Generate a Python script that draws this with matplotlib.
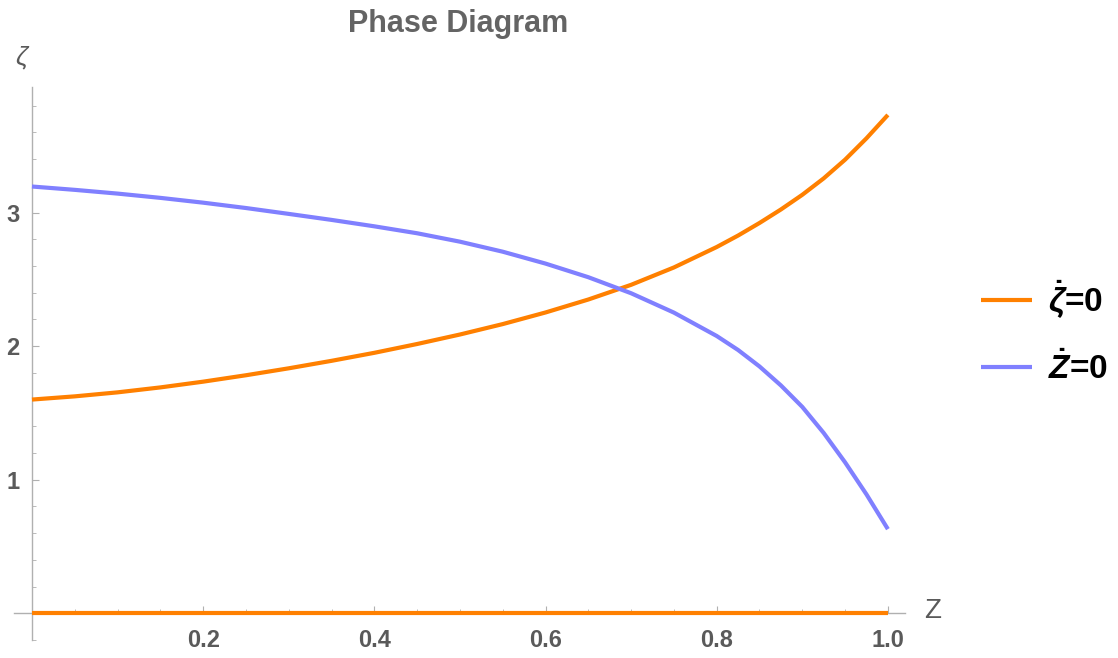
import matplotlib
matplotlib.use('Agg')
import matplotlib.pyplot as plt
from matplotlib.ticker import FixedLocator, MultipleLocator

# values
z_vals = [0.0, 0.05, 0.10, 0.15, 0.20, 0.25, 0.30, 0.35, 0.40, 0.45, 0.50,
          0.55, 0.60, 0.65, 0.70, 0.75, 0.80, 0.825, 0.85, 0.875, 0.90,
          0.925, 0.95, 0.975, 1.0]
zeta_dot_zero = [1.600, 1.624, 1.654, 1.691, 1.734, 1.782, 1.834, 1.890, 1.950,
                 2.016, 2.087, 2.165, 2.252, 2.349, 2.459, 2.589, 2.742, 2.828,
                 2.922, 3.023, 3.133, 3.256, 3.396, 3.556, 3.731]
z_dot_zero = [3.195, 3.170, 3.142, 3.110, 3.074, 3.034, 2.990, 2.945, 2.897,
              2.845, 2.782, 2.707, 2.618, 2.516, 2.396, 2.251, 2.076, 1.971,
              1.848, 1.706, 1.545, 1.350, 1.130, 0.890, 0.630]
zero_branch_x = [0.0, 1.0]
zero_branch_y = [0.0, 0.0]

x_ticks = [0.2, 0.4, 0.6, 0.8, 1.0]
x_tick_labels = ['0.2', '0.4', '0.6', '0.8', '1.0']
y_ticks = [1, 2, 3]
y_tick_labels = ['1', '2', '3']

orange = '#ff8000'
blue = '#8080ff'
gray = '#5a5a5a'
axis_gray = '#b0b0b0'

plt.rcParams['font.family'] = ['Liberation Sans', 'DejaVu Sans']
plt.rcParams['mathtext.fontset'] = 'custom'
plt.rcParams['mathtext.rm'] = 'Liberation Sans:bold'
plt.rcParams['mathtext.it'] = 'Liberation Sans:italic:bold'
plt.rcParams['mathtext.bf'] = 'Liberation Sans:bold'

fig = plt.figure(figsize=(11.18, 6.58), dpi=100)
W, H = 1118, 658
ax = fig.add_axes([14 / W, 1 - 640 / H, (905 - 14) / W, (640 - 87) / H])

ax.plot(z_vals, zeta_dot_zero, color=orange, lw=3, label=r'$\dot{\zeta}$=0',
        solid_capstyle='butt', solid_joinstyle='round', zorder=3)
ax.plot(zero_branch_x, zero_branch_y, color=orange, lw=3,
        solid_capstyle='butt', zorder=3)
ax.plot(z_vals, z_dot_zero, color=blue, lw=3, label=r'$\dot{Z}$=0',
        solid_capstyle='butt', solid_joinstyle='round', zorder=3)

ax.set_xlim(-0.021, 1.02)
ax.set_ylim(-0.2, 3.94)

for side in ['top', 'right']:
    ax.spines[side].set_visible(False)
for side in ['left', 'bottom']:
    ax.spines[side].set_position(('data', 0))
    ax.spines[side].set_color(axis_gray)
    ax.spines[side].set_linewidth(1.0)

tick_font = {'family': ['Liberation Sans Narrow', 'Liberation Sans'],
             'weight': 'bold', 'size': 17}
ax.xaxis.set_major_locator(FixedLocator(x_ticks))
ax.set_xticklabels(x_tick_labels, fontdict=tick_font)
ax.xaxis.set_minor_locator(MultipleLocator(0.05))
ax.yaxis.set_major_locator(FixedLocator(y_ticks))
ax.set_yticklabels(y_tick_labels, fontdict=tick_font)
ax.yaxis.set_minor_locator(MultipleLocator(0.2))

ax.tick_params(which='both', direction='in', color=axis_gray, labelcolor=gray)
ax.tick_params(which='major', length=5, width=0.8)
ax.tick_params(which='minor', length=3, width=0.6)
ax.tick_params(axis='x', which='major', pad=11)
ax.tick_params(axis='y', which='major', pad=9)

fig.text(458 / W, 1 - 24 / H, 'Phase Diagram', ha='center', va='center',
         fontsize=22, fontweight='bold', color='#646464')
fig.text(21 / W, 1 - 57 / H, 'ζ', ha='center', va='center',
         fontsize=19, fontstyle='italic', color=gray)
fig.text(933 / W, 1 - 611 / H, 'Z', ha='center', va='center',
         fontsize=20, color=gray)

leg = fig.legend(loc='center left', bbox_to_anchor=(981 / W, 1 - 332 / H),
                 frameon=False, handlelength=1.53, handletextpad=0.48,
                 labelspacing=0.92, borderpad=0, borderaxespad=0,
                 prop={'weight': 'bold', 'size': 24})
for t in leg.get_texts():
    t.set_color('black')

fig.savefig('out.png', dpi=100)
